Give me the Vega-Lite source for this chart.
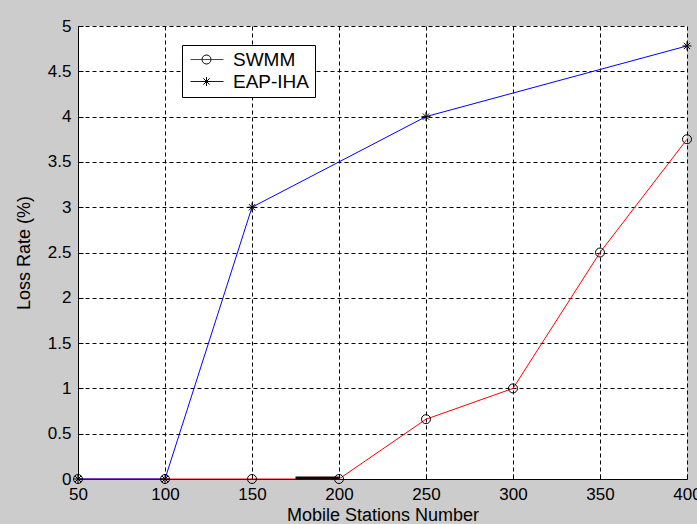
{
  "$schema": "https://vega.github.io/schema/vega-lite/v6.json",
  "width": 609,
  "height": 453,
  "autosize": {"type": "none"},
  "padding": {"left": 78, "top": 26, "right": 10, "bottom": 45},
  "background": "#cccccc",
  "config": {
    "view": {"fill": "white", "stroke": null},
    "font": "Liberation Sans",
    "axis": {
      "grid": true,
      "gridColor": "black",
      "gridDash": [4, 3],
      "gridOpacity": 1,
      "gridWidth": 1,
      "domainColor": "black",
      "domainWidth": 1,
      "tickColor": "black",
      "tickSize": -5,
      "labelFont": "Liberation Sans",
      "labelFontSize": 17,
      "labelColor": "black",
      "labelFlush": false,
      "labelOverlap": false,
      "titleFont": "Liberation Sans",
      "titleFontSize": 18,
      "titleFontWeight": "normal",
      "titleColor": "black"
    },
    "axisX": {"labelPadding": 12, "titlePadding": 4},
    "axisY": {"labelPadding": 12, "titlePadding": 14}
  },
  "datasets": {
    "main": [
      {"stations": 50, "loss": 0, "series": "SWMM"},
      {"stations": 100, "loss": 0, "series": "SWMM"},
      {"stations": 150, "loss": 0, "series": "SWMM"},
      {"stations": 200, "loss": 0, "series": "SWMM"},
      {"stations": 250, "loss": 0.66, "series": "SWMM"},
      {"stations": 300, "loss": 1.0, "series": "SWMM"},
      {"stations": 350, "loss": 2.5, "series": "SWMM"},
      {"stations": 400, "loss": 3.75, "series": "SWMM"},
      {"stations": 50, "loss": 0, "series": "EAP-IHA"},
      {"stations": 100, "loss": 0, "series": "EAP-IHA"},
      {"stations": 150, "loss": 3.0, "series": "EAP-IHA"},
      {"stations": 250, "loss": 4.0, "series": "EAP-IHA"},
      {"stations": 400, "loss": 4.78, "series": "EAP-IHA"}
    ],
    "artifact": [
      {"stations": 175, "loss": 0.01},
      {"stations": 200, "loss": 0.01}
    ]
  },
  "layer": [
    {
      "data": {"name": "main"},
      "transform": [{"filter": "datum.series === 'SWMM'"}],
      "mark": {"type": "line", "strokeWidth": 1},
      "encoding": {
        "x": {
          "field": "stations", "type": "quantitative", "title": "Mobile Stations Number",
          "scale": {"domain": [50, 400], "nice": false, "zero": false},
          "axis": {"values": [50, 100, 150, 200, 250, 300, 350, 400]}
        },
        "y": {
          "field": "loss", "type": "quantitative", "title": "Loss Rate (%)",
          "scale": {"domain": [0, 5], "nice": false},
          "axis": {"values": [0, 0.5, 1, 1.5, 2, 2.5, 3, 3.5, 4, 4.5, 5], "format": "~g"}
        },
        "color": {
          "field": "series", "type": "nominal",
          "scale": {"domain": ["SWMM", "EAP-IHA"], "range": ["#ff0000", "#0000ff"]},
          "legend": {
            "orient": "none", "legendX": 104, "legendY": 19, "title": null,
            "fillColor": "white", "strokeColor": "black", "padding": 5,
            "symbolType": "M-1.333,0L6,0", "symbolSize": 81, "symbolStrokeWidth": 1,
            "labelFont": "Liberation Sans", "labelFontSize": 19, "labelColor": "black",
            "labelOffset": 27, "rowPadding": 2, "zindex": 1
          }
        }
      }
    },
    {
      "data": {"name": "main"},
      "transform": [{"filter": "datum.series === 'EAP-IHA'"}],
      "mark": {"type": "line", "strokeWidth": 1},
      "encoding": {
        "x": {"field": "stations", "type": "quantitative", "title": "Mobile Stations Number"},
        "y": {"field": "loss", "type": "quantitative", "title": "Loss Rate (%)"},
        "color": {"field": "series", "type": "nominal"}
      }
    },
    {
      "data": {"name": "artifact"},
      "mark": {"type": "line", "color": "#1a0000", "strokeWidth": 3},
      "encoding": {
        "x": {"field": "stations", "type": "quantitative", "title": "Mobile Stations Number"},
        "y": {"field": "loss", "type": "quantitative", "title": "Loss Rate (%)"}
      }
    },
    {
      "data": {"name": "main"},
      "mark": {"type": "point", "filled": false, "color": "black", "strokeWidth": 1, "size": 81, "opacity": 1},
      "encoding": {
        "x": {"field": "stations", "type": "quantitative", "title": "Mobile Stations Number"},
        "y": {"field": "loss", "type": "quantitative", "title": "Loss Rate (%)"},
        "shape": {
          "field": "series", "type": "nominal", "sort": ["SWMM", "EAP-IHA"],
          "scale": {"range": ["circle", "M-1,0L1,0M0,-1L0,1M-0.7,-0.7L0.7,0.7M-0.7,0.7L0.7,-0.7"]},
          "legend": {
            "orient": "none", "legendX": 114, "legendY": 19, "title": null,
            "padding": 5, "symbolSize": 81, "symbolStrokeColor": "black",
            "symbolFillColor": "transparent", "symbolStrokeWidth": 1,
            "labelFont": "Liberation Sans", "labelFontSize": 19, "labelExpr": "''",
            "labelOffset": 11, "rowPadding": 2, "zindex": 2
          }
        }
      }
    }
  ]
}
